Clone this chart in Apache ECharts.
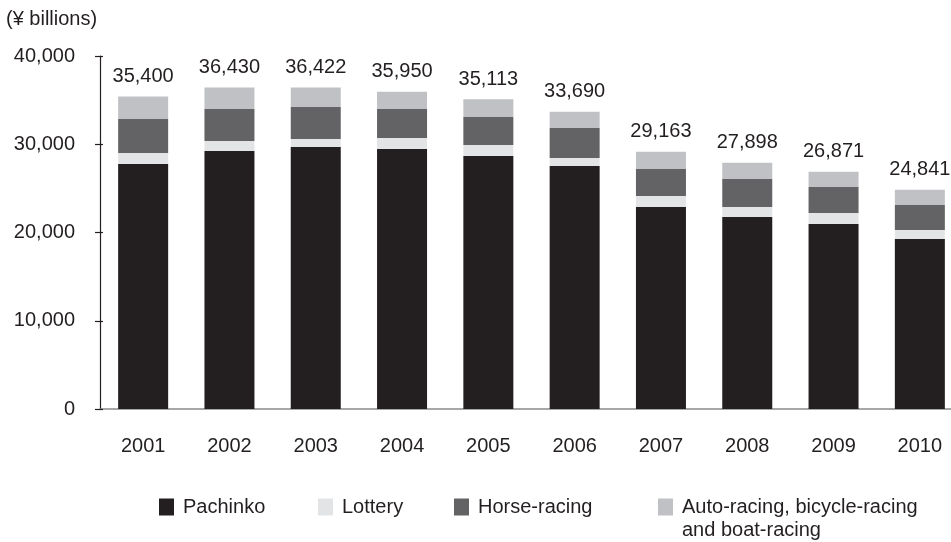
<!DOCTYPE html>
<html>
<head>
<meta charset="utf-8">
<title>Gaming market by category</title>
<script src="https://cdn.jsdelivr.net/npm/echarts@6/dist/echarts.min.js"></script>
<style>
  html, body { margin: 0; padding: 0; background: #ffffff; }
  #chart { width: 951px; height: 542px; }
</style>
</head>
<body>
<div id="chart"></div>
<script>
// Years on the category axis
const years = ['2001', '2002', '2003', '2004', '2005', '2006', '2007', '2008', '2009', '2010'];

// Market size by category (¥ billions)
const pachinko = [27760, 29230, 29690, 29460, 28670, 27530, 22890, 21750, 20960, 19260];
const lottery = [1250, 1130, 910, 1250, 1250, 910, 1250, 1130, 1250, 1020];
const horseRacing = [3850, 3630, 3630, 3290, 3170, 3400, 3060, 3170, 2950, 2830];
const publicRacing = [2540, 2440, 2192, 1950, 2023, 1850, 1963, 1848, 1711, 1731];

// Value axis ticks
const yTicks = [0, 10000, 20000, 30000, 40000];

const seriesNames = ['Pachinko', 'Lottery', 'Horse-racing', 'Auto-racing, bicycle-racing\nand boat-racing'];
const seriesColors = ['#231f20', '#e3e4e6', '#636365', '#c0c1c4'];
const seriesData = [pachinko, lottery, horseRacing, publicRacing];

const FONT = '"Liberation Sans", Arial, sans-serif';
const INK = '#231f20';
const FS = 20;

// Stack totals shown above each bar
const totals = years.map((_, i) => seriesData.reduce((s, arr) => s + arr[i], 0));

const fmt = v => v.toLocaleString('en-US');

const chart = echarts.init(document.getElementById('chart'), null, { renderer: 'canvas' });

// Legend entries laid out one by one along the bottom row
const legendLeft = [159, 318, 454, 658];
const LEGEND_LINE = 23;
const legendRowCenter = 507;

const option = {
  backgroundColor: '#ffffff',
  animation: false,
  textStyle: { fontFamily: FONT, color: INK },
  title: {
    text: '(¥ billions)',
    left: 6,
    top: 9,
    padding: 0,
    textStyle: { fontFamily: FONT, fontSize: FS, fontWeight: 'normal', color: INK }
  },
  legend: seriesNames.map((name, i) => {
    const multi = name.indexOf('\n') >= 0;
    // a leading blank line keeps the first text line level with the swatch
    const lines = multi ? 3 : 1;
    return {
      data: [name],
      left: legendLeft[i],
      top: legendRowCenter - (lines * LEGEND_LINE) / 2,
      padding: 0,
      icon: 'rect',
      itemWidth: 15,
      itemHeight: 17,
      selectedMode: false,
      formatter: n => (multi ? ' \n' + n : n),
      textStyle: {
        fontFamily: FONT,
        fontSize: FS,
        color: INK,
        lineHeight: LEGEND_LINE,
        padding: [0, 0, 0, 4]
      }
    };
  }),
  grid: {
    left: 100,
    top: 56,
    width: 863,
    height: 353,
    containLabel: false,
    outerBoundsMode: 'none'
  },
  xAxis: {
    type: 'category',
    data: years,
    boundaryGap: true,
    axisLine: { show: true, lineStyle: { color: '#8a8a8a', width: 1.5 } },
    axisTick: { show: false },
    axisLabel: { fontFamily: FONT, fontSize: FS, color: INK, margin: 27 },
    splitLine: { show: false }
  },
  yAxis: [
    {
      type: 'value',
      min: yTicks[0],
      max: yTicks[yTicks.length - 1],
      interval: yTicks[1] - yTicks[0],
      axisLine: { show: true, lineStyle: { color: INK, width: 1.2 } },
      axisTick: { show: true, length: 5, lineStyle: { color: INK, width: 1.2 } },
      axisLabel: {
        fontFamily: FONT,
        fontSize: FS,
        color: INK,
        margin: 25,
        formatter: v => fmt(v)
      },
      splitLine: { show: false }
    },
    {
      // inner half of the cross-shaped ticks
      type: 'value',
      position: 'left',
      min: yTicks[0],
      max: yTicks[yTicks.length - 1],
      interval: yTicks[1] - yTicks[0],
      axisLine: { show: false },
      axisTick: { show: true, inside: true, length: 3, lineStyle: { color: INK, width: 1.2 } },
      axisLabel: { show: false },
      splitLine: { show: false }
    }
  ],
  series: seriesNames.map((name, i) => ({
    name: name,
    type: 'bar',
    stack: 'market',
    barWidth: 50,
    data: seriesData[i],
    itemStyle: { color: seriesColors[i] },
    emphasis: { disabled: true },
    label: i === seriesNames.length - 1 ? {
      show: true,
      position: 'top',
      distance: 10,
      fontFamily: FONT,
      fontSize: FS,
      color: INK,
      formatter: p => fmt(totals[p.dataIndex])
    } : { show: false }
  }))
};

chart.setOption(option);
</script>
</body>
</html>
